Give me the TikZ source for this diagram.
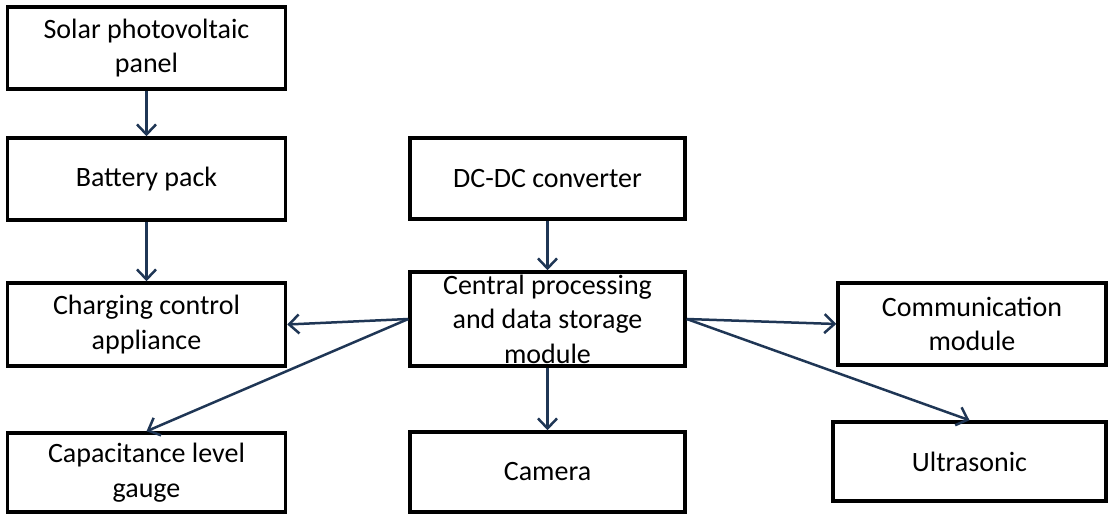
\documentclass[tikz,border=0pt]{standalone}
\usepackage{fontspec}
\setmainfont{Carlito}
\usetikzlibrary{arrows.meta}
\definecolor{linknavy}{HTML}{1F3655}
\begin{document}
\begin{tikzpicture}[x=1pt,y=-1pt,
  block/.style={draw=black,line width=3.5pt,fill=white,inner sep=0pt,align=center,
    font=\fontsize{28}{34.5}\selectfont},
  link/.style={draw=linknavy,line width=2.5pt,
    -{Straight Barb[length=10pt,width=19pt,line width=2.5pt]}}]
  \useasboundingbox (0,0) rectangle (1108,514);
  % left column
  \node[block,minimum width=278pt,minimum height=82pt] (solar) at (146.5,48) {Solar photovoltaic\\panel};
  \node[block,minimum width=278pt,minimum height=82pt] (battery) at (146.5,179) {Battery pack};
  \node[block,minimum width=278pt,minimum height=83pt] (charging) at (146.5,324.5) {Charging control\\appliance};
  \node[block,minimum width=278pt,minimum height=79pt] (gauge) at (146.5,472.5) {Capacitance level\\gauge};
  % middle column
  \node[block,minimum width=275pt,minimum height=81pt] (dcdc) at (547.5,178.5) {DC-DC converter};
  \node[block,minimum width=275pt,minimum height=94pt] (cpu) at (547.5,319) {Central processing\\and data storage\\module};
  \node[block,minimum width=275pt,minimum height=80pt] (camera) at (547.5,472) {Camera};
  % right column
  \node[block,minimum width=268pt,minimum height=82pt] (comm) at (972,324) {Communication\\module};
  \node[block,minimum width=273pt,minimum height=79pt] (ultra) at (969.5,461.5) {Ultrasonic};
  % connections
  \draw[link] (solar) -- (battery);
  \draw[link] (battery) -- (charging);
  \draw[link] (dcdc) -- (cpu);
  \draw[link] (cpu) -- (camera);
  \draw[link] (cpu.west) -- (charging.east);
  \draw[link] (cpu.west) -- (gauge.north);
  \draw[link] (cpu.east) -- (comm.west);
  \draw[link] (cpu.east) -- (ultra.north);
\end{tikzpicture}
\end{document}
